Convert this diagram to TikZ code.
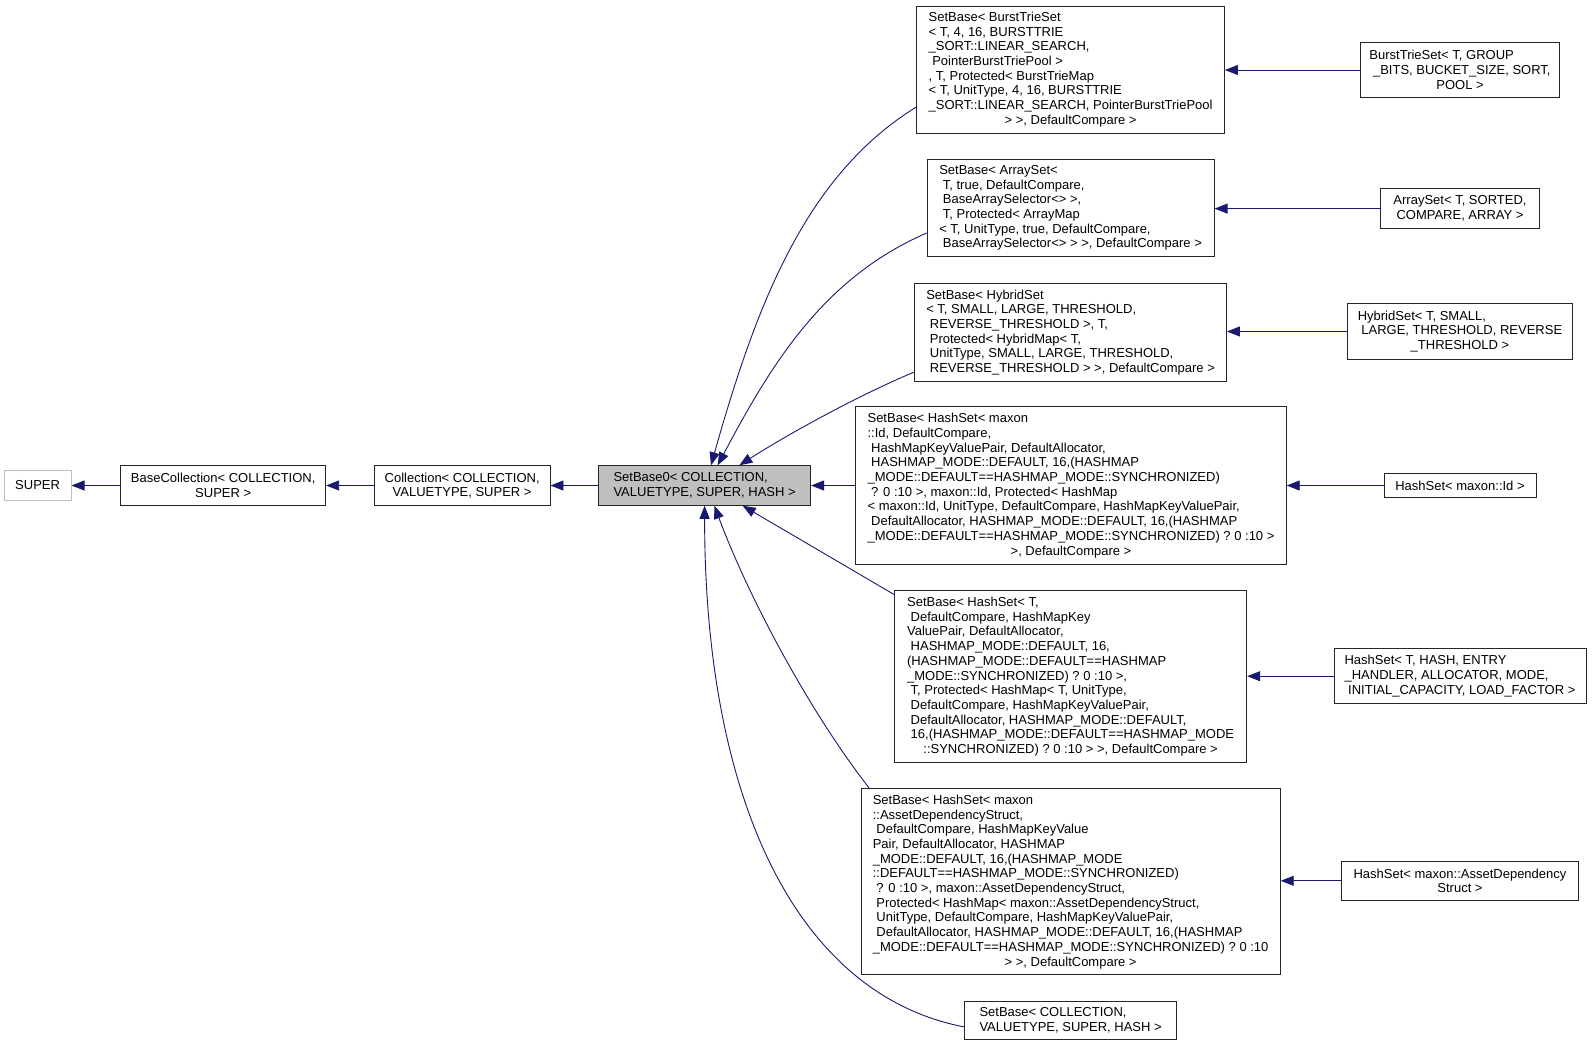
\documentclass[tikz,border=0pt]{standalone}
\usepackage{fontspec}
\setmainfont{Liberation Sans}
\usetikzlibrary{positioning, arrows.meta}
\definecolor{edgeblue}{HTML}{191970}
\newcommand{\midline}[1]{\null\hfill#1\hfill\null}
\tikzset{
    >={Triangle[length=13pt, width=10pt]}, % filled arrow heads of the class graph
    every node/.style={font=\fontsize{13pt}{14.7pt}\selectfont},
    cls/.style={draw=black!85, fill=white, line width=0.9pt, align=left, inner sep=3pt}, % one class box
    cur/.style={cls, fill=gray!50}, % the class this graph is about
    ext/.style={cls, draw=gray!50}, % a class without documentation
    inh/.style={->, draw=edgeblue, line width=0.9pt}, % inheritance edge
}
\begin{document}
\begin{tikzpicture}[x=1pt, y=-1pt]
\useasboundingbox (0,0) rectangle (1592,1047);
% left chain
\node[ext, minimum width=67pt, minimum height=29.5pt] (super) at (37.6,485.5) {SUPER};
\node[cls, right=48.7pt of super, minimum width=205pt, minimum height=39.6pt] (basecoll) {BaseCollection< COLLECTION,\\\midline{SUPER >}};
\node[cls, right=47.7pt of basecoll, minimum width=175.7pt, minimum height=39.6pt] (coll) {Collection< COLLECTION,\\\midline{VALUETYPE, SUPER >}};
\node[cur, right=47.7pt of coll, minimum width=212pt, minimum height=39.6pt] (sb0) {SetBase0< COLLECTION,\\\midline{VALUETYPE, SUPER, HASH >}};
% middle column
\node[cls, minimum width=307.7pt, minimum height=127pt] (sbburst) at (1070.6,69.5) {SetBase< BurstTrieSet\\< T, 4, 16, BURSTTRIE\\\_SORT::LINEAR\_SEARCH,\\\ PointerBurstTriePool >\\, T, Protected< BurstTrieMap\\< T, UnitType, 4, 16, BURSTTRIE\\\_SORT::LINEAR\_SEARCH, PointerBurstTriePool\\\midline{> >, DefaultCompare >}};
\node[cls, minimum width=287pt, minimum height=97.5pt] (sbarray) at (1070.6,208) {SetBase< ArraySet<\\\ T, true, DefaultCompare,\\\ BaseArraySelector<> >,\\\ T, Protected< ArrayMap\\< T, UnitType, true, DefaultCompare,\\\midline{\ BaseArraySelector<> > >, DefaultCompare >}};
\node[cls, minimum width=311.7pt, minimum height=98.5pt] (sbhybrid) at (1070.6,332.5) {SetBase< HybridSet\\< T, SMALL, LARGE, THRESHOLD,\\\ REVERSE\_THRESHOLD >, T,\\\ Protected< HybridMap< T,\\\ UnitType, SMALL, LARGE, THRESHOLD,\\\midline{\ REVERSE\_THRESHOLD > >, DefaultCompare >}};
\node[cls, minimum width=430.5pt, minimum height=157.4pt] (sbhashid) at (1071,485.5) {SetBase< HashSet< maxon\\::Id, DefaultCompare,\\\ HashMapKeyValuePair, DefaultAllocator,\\\ HASHMAP\_MODE::DEFAULT, 16,(HASHMAP\\\_MODE::DEFAULT==HASHMAP\_MODE::SYNCHRONIZED)\\\ ? 0 :10 >, maxon::Id, Protected< HashMap\\< maxon::Id, UnitType, DefaultCompare, HashMapKeyValuePair,\\\ DefaultAllocator, HASHMAP\_MODE::DEFAULT, 16,(HASHMAP\\\_MODE::DEFAULT==HASHMAP\_MODE::SYNCHRONIZED) ? 0 :10 >\\\midline{>, DefaultCompare >}};
\node[cls, minimum width=352.3pt, minimum height=171.6pt] (sbhasht) at (1070.6,676.7) {SetBase< HashSet< T,\\\ DefaultCompare, HashMapKey\\ValuePair, DefaultAllocator,\\\ HASHMAP\_MODE::DEFAULT, 16,\\(HASHMAP\_MODE::DEFAULT==HASHMAP\\\_MODE::SYNCHRONIZED) ? 0 :10 >,\\\ T, Protected< HashMap< T, UnitType,\\\ DefaultCompare, HashMapKeyValuePair,\\\ DefaultAllocator, HASHMAP\_MODE::DEFAULT,\\\ 16,(HASHMAP\_MODE::DEFAULT==HASHMAP\_MODE\\\midline{::SYNCHRONIZED) ? 0 :10 > >, DefaultCompare >}};
\node[cls, minimum width=419.3pt, minimum height=185.8pt] (sbasset) at (1070.6,881.8) {SetBase< HashSet< maxon\\::AssetDependencyStruct,\\\ DefaultCompare, HashMapKeyValue\\Pair, DefaultAllocator, HASHMAP\\\_MODE::DEFAULT, 16,(HASHMAP\_MODE\\::DEFAULT==HASHMAP\_MODE::SYNCHRONIZED)\\\ ? 0 :10 >, maxon::AssetDependencyStruct,\\\ Protected< HashMap< maxon::AssetDependencyStruct,\\\ UnitType, DefaultCompare, HashMapKeyValuePair,\\\ DefaultAllocator, HASHMAP\_MODE::DEFAULT, 16,(HASHMAP\\\_MODE::DEFAULT==HASHMAP\_MODE::SYNCHRONIZED) ? 0 :10\\\midline{> >, DefaultCompare >}};
\node[cls, minimum width=212pt, minimum height=38.6pt] (sbcoll) at (1070.6,1020.4) {SetBase< COLLECTION,\\\midline{VALUETYPE, SUPER, HASH >}};
% right column
\node[cls, minimum width=199pt, minimum height=55pt] (burst) at (1460,70) {BurstTrieSet< T, GROUP\\\ \_BITS, BUCKET\_SIZE, SORT,\\\midline{POOL >}};
\node[cls, minimum width=158.4pt, minimum height=39.6pt] (array) at (1460,208.6) {ArraySet< T, SORTED,\\\midline{COMPARE, ARRAY >}};
\node[cls, minimum width=225.4pt, minimum height=55.8pt] (hybrid) at (1460,331.5) {HybridSet< T, SMALL,\\\ LARGE, THRESHOLD, REVERSE\\\midline{\_THRESHOLD >}};
\node[cls, minimum width=152pt, minimum height=24.4pt] (hashid) at (1460,485.5) {HashSet< maxon::Id >};
\node[cls, minimum width=252pt, minimum height=55pt] (hasht) at (1460,676.2) {HashSet< T, HASH, ENTRY\\\_HANDLER, ALLOCATOR, MODE,\\\midline{\ INITIAL\_CAPACITY, LOAD\_FACTOR >}};
\node[cls, minimum width=237.6pt, minimum height=39.6pt] (hashasset) at (1460,880.8) {HashSet< maxon::AssetDependency\\\midline{Struct >}};
% edges
\draw[inh] (basecoll) -- (super);
\draw[inh] (coll) -- (basecoll);
\draw[inh] (sb0) -- (coll);
\draw[inh] ([yshift=-37.5pt]sbburst.west) .. controls +(-110,68) and +(46,-163) .. ([xshift=6.4pt]sb0.north);
\draw[inh] ([yshift=-25pt]sbarray.west) .. controls +(-101,44) and +(56,-106) .. ([xshift=13.1pt]sb0.north);
\draw[inh] ([yshift=-39.5pt]sbhybrid.west) .. controls +(-55,23) and +(50,-32) .. ([xshift=34.8pt]sb0.north);
\draw[inh] (sbhashid) -- (sb0);
\draw[inh] ([yshift=-4pt]sbhasht.north west) -- ([xshift=38.1pt]sb0.south);
\draw[inh] ([xshift=9pt]sbasset.north west) .. controls +(-58,-74) and +(35,94) .. ([xshift=9.8pt]sb0.south);
\draw[inh] ([yshift=-6.5pt]sbcoll.west) .. controls +(-170,-33) and +(0,290) .. (sb0.south);
\draw[inh] (burst.west) -- (burst.west -| sbburst.east);
\draw[inh] (array.west) -- (array.west -| sbarray.east);
\draw[inh] (hybrid.west) -- (hybrid.west -| sbhybrid.east);
\draw[inh] (hashid.west) -- (hashid.west -| sbhashid.east);
\draw[inh] (hasht.west) -- (hasht.west -| sbhasht.east);
\draw[inh] (hashasset.west) -- (hashasset.west -| sbasset.east);
\end{tikzpicture}
\end{document}
